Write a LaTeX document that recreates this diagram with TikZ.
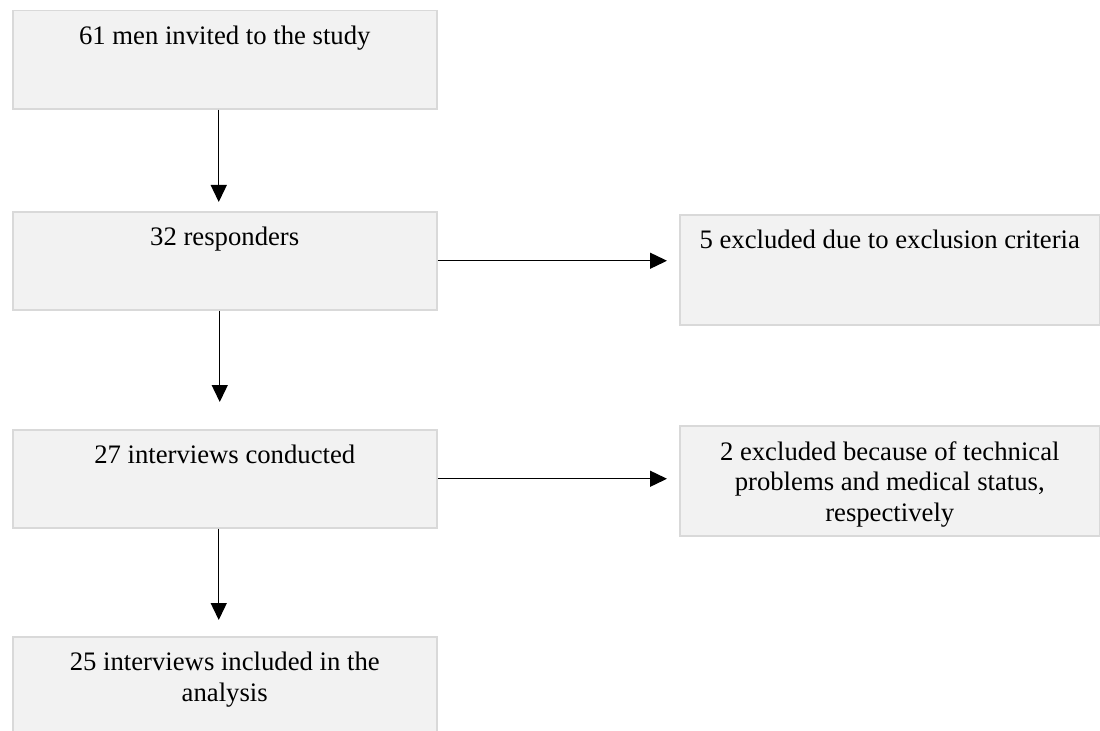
\documentclass[tikz,border=0pt]{standalone}
\usepackage{fontspec}
\setmainfont{Liberation Serif}
\usetikzlibrary{arrows.meta}
\definecolor{boxfill}{HTML}{F2F2F2}
\definecolor{boxline}{HTML}{D9D9D9}
\begin{document}
\begin{tikzpicture}[x=1bp,y=-1bp,
  stagebox/.style={draw=boxline, fill=boxfill, line width=1.5bp, inner sep=0pt,
    anchor=north west, minimum height=98bp},
  leftbox/.style={stagebox, minimum width=424bp},
  rightbox/.style={stagebox, minimum width=420bp},
  boxtext/.style={anchor=north, inner sep=0pt, align=center,
    font=\fontsize{26.7bp}{30.8bp}\selectfont},
  arr/.style={line width=1.4bp, -{Triangle[length=17bp,width=16bp]}}
]
\useasboundingbox (0,0) rectangle (1100,731);

% main flow
\node[leftbox] (b1) at (12,10) {};
\node[leftbox] (b2) at (12,211) {};
\node[leftbox] (b3) at (12,429) {};
\node[leftbox, minimum height=120bp] (b4) at (12,636) {};

% exclusions
\node[rightbox, minimum height=110bp] (r1) at (679,214) {};
\node[rightbox, minimum height=110bp] (r2) at (679,425) {};

% labels, placed from the top edge of each box
\node[boxtext] (t1) at ([yshift=-16bp]b1.north) {61 men invited to the study};
\node[boxtext] (t2) at ([yshift=-16bp]b2.north) {32 responders};
\node[boxtext] (t3) at ([yshift=-16bp]b3.north) {27 interviews conducted};
\node[boxtext] (t4) at ([yshift=-16bp]b4.north) {25 interviews included in the\\analysis};
\node[boxtext] (s1) at ([yshift=-16bp]r1.north) {5 excluded due to exclusion criteria};
\node[boxtext] (s2) at ([yshift=-16bp]r2.north) {2 excluded because of technical\\problems and medical status,\\respectively};

% connectors
\draw[arr, shorten >=9bp] ([xshift=-6bp]b1.south) -- ([xshift=-6bp]b2.north);
\draw[arr, shorten >=27bp] ([xshift=-5bp]b2.south) -- ([xshift=-5bp]b3.north);
\draw[arr, shorten >=16bp] ([xshift=-6bp]b3.south) -- ([xshift=-6bp]b4.north);
\draw[arr, shorten >=12bp] (b2.east) -- (b2.east -| r1.west);
\draw[arr, shorten >=12bp] (b3.east) -- (b3.east -| r2.west);
\end{tikzpicture}
\end{document}
